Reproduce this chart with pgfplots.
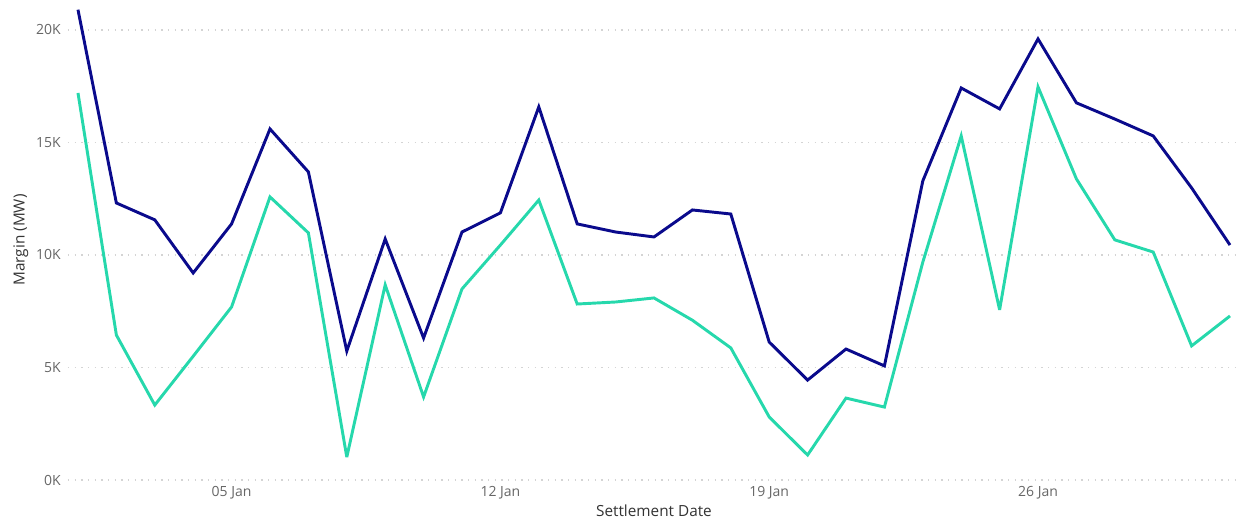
\documentclass[border=0pt]{standalone}
\usepackage{fontspec}
\setmainfont{Open Sans}
\usepackage{pgfplots}
\pgfplotsset{compat=1.18}

\definecolor{navyline}{RGB}{10,10,140}
\definecolor{tealline}{RGB}{38,216,172}
\definecolor{ticktext}{RGB}{102,102,102}
\definecolor{labeltext}{RGB}{51,51,51}

\begin{document}
\begin{tikzpicture}
\begin{axis}[
    name=ax,
    scale only axis,
    width=879pt,
    height=360pt,
    xmin=0.74, xmax=31.26,
    ymin=0, ymax=21.33,
    axis line style={draw=none},
    tick style={draw=none},
    xtick={5,12,19,26},
    xticklabels={05 Jan,12 Jan,19 Jan,26 Jan},
    ytick={0,5,10,15,20},
    yticklabels={0K,5K,10K,15K,20K},
    ymajorgrids,
    grid style={dash pattern=on 0.9pt off 4.1pt, line width=0.9pt, color=black!17},
    ticklabel style={font=\fontsize{10.5}{12}\selectfont, text=ticktext},
    yticklabel style={xshift=-2pt},
    xticklabel style={yshift=-1pt},
    xlabel={Settlement Date},
    ylabel={Margin (MW)},
    label style={font=\fontsize{11.5}{13}\selectfont, text=labeltext},
    xlabel style={yshift=2pt},
    ylabel style={yshift=-1pt},
    clip=false,
]
\addplot[navyline, line width=2.2pt, line join=miter, miter limit=4] coordinates {
(1,20.9) (2,12.31) (3,11.56) (4,9.2) (5,11.38) (6,15.6) (7,13.69) (8,5.73)
(9,10.71) (10,6.31) (11,11.02) (12,11.87) (13,16.58) (14,11.38) (15,11.02)
(16,10.8) (17,12.0) (18,11.82) (19,6.13) (20,4.44) (21,5.82) (22,5.07)
(23,13.29) (24,17.42) (25,16.49) (26,19.6) (27,16.76) (28,16.04) (29,15.29)
(30,12.98) (31,10.44)
};
\addplot[tealline, line width=2.2pt, line join=miter, miter limit=4] coordinates {
(1,17.2) (2,6.44) (3,3.33) (4,5.5) (5,7.69) (6,12.58) (7,10.98) (8,1.02)
(9,8.67) (10,3.69) (11,8.49) (12,10.44) (13,12.44) (14,7.82) (15,7.91)
(16,8.09) (17,7.1) (18,5.87) (19,2.8) (20,1.11) (21,3.64) (22,3.24)
(23,9.68) (24,15.29) (25,7.56) (26,17.47) (27,13.38) (28,10.67) (29,10.13)
(30,5.96) (31,7.29)
};
\end{axis}
\pgfresetboundingbox
\path[use as bounding box] ([xshift=-51pt,yshift=-30.75pt]ax.south west) rectangle (ax.north east);
\end{tikzpicture}
\end{document}
